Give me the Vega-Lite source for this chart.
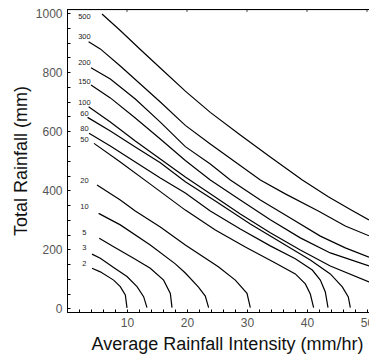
{
  "$schema": "https://vega.github.io/schema/vega-lite/v6.json",
  "width": 302,
  "height": 303,
  "autosize": {"type": "none"},
  "padding": {"left": 67, "top": 9, "right": 0, "bottom": 45},
  "config": {
    "view": {"stroke": "#000", "strokeWidth": 1},
    "axis": {
      "grid": false,
      "domainColor": "#000",
      "domainWidth": 1,
      "tickColor": "#000",
      "labelColor": "#555",
      "titleColor": "#111",
      "labelFont": "Liberation Sans",
      "titleFont": "Liberation Sans",
      "labelFontSize": 12,
      "titleFontSize": 18,
      "titleFontWeight": "normal"
    }
  },
  "datasets": {
    "curves": [
      {"c": "500", "i": 0, "x": 5.83, "y": 997},
      {"c": "500", "i": 1, "x": 8.88, "y": 941},
      {"c": "500", "i": 2, "x": 12.22, "y": 877},
      {"c": "500", "i": 3, "x": 15.55, "y": 814},
      {"c": "500", "i": 4, "x": 19.72, "y": 736},
      {"c": "500", "i": 5, "x": 23.88, "y": 664},
      {"c": "500", "i": 6, "x": 28.88, "y": 587},
      {"c": "500", "i": 7, "x": 33.88, "y": 513},
      {"c": "500", "i": 8, "x": 39.22, "y": 435},
      {"c": "500", "i": 9, "x": 43.55, "y": 378},
      {"c": "500", "i": 10, "x": 47.22, "y": 335},
      {"c": "500", "i": 11, "x": 50.33, "y": 300},

      {"c": "300", "i": 0, "x": 3.6, "y": 903},
      {"c": "300", "i": 1, "x": 5.55, "y": 879},
      {"c": "300", "i": 2, "x": 8.88, "y": 821},
      {"c": "300", "i": 3, "x": 12.22, "y": 760},
      {"c": "300", "i": 4, "x": 15.55, "y": 699},
      {"c": "300", "i": 5, "x": 19.72, "y": 620},
      {"c": "300", "i": 6, "x": 23.88, "y": 557},
      {"c": "300", "i": 7, "x": 28.05, "y": 496},
      {"c": "300", "i": 8, "x": 32.22, "y": 435},
      {"c": "300", "i": 9, "x": 36.38, "y": 388},
      {"c": "300", "i": 10, "x": 41.88, "y": 330},
      {"c": "300", "i": 11, "x": 46.38, "y": 279},
      {"c": "300", "i": 12, "x": 50.33, "y": 246},

      {"c": "200", "i": 0, "x": 4.0, "y": 815},
      {"c": "200", "i": 1, "x": 7.22, "y": 777},
      {"c": "200", "i": 2, "x": 11.38, "y": 709},
      {"c": "200", "i": 3, "x": 15.55, "y": 631},
      {"c": "200", "i": 4, "x": 19.72, "y": 548},
      {"c": "200", "i": 5, "x": 23.88, "y": 489},
      {"c": "200", "i": 6, "x": 27.22, "y": 435},
      {"c": "200", "i": 7, "x": 32.22, "y": 367},
      {"c": "200", "i": 8, "x": 37.22, "y": 306},
      {"c": "200", "i": 9, "x": 42.22, "y": 245},
      {"c": "200", "i": 10, "x": 46.38, "y": 205},
      {"c": "200", "i": 11, "x": 50.33, "y": 174},

      {"c": "150", "i": 0, "x": 4.0, "y": 757},
      {"c": "150", "i": 1, "x": 7.22, "y": 713},
      {"c": "150", "i": 2, "x": 11.38, "y": 645},
      {"c": "150", "i": 3, "x": 15.55, "y": 574},
      {"c": "150", "i": 4, "x": 19.72, "y": 501},
      {"c": "150", "i": 5, "x": 23.88, "y": 435},
      {"c": "150", "i": 6, "x": 28.88, "y": 367},
      {"c": "150", "i": 7, "x": 33.88, "y": 300},
      {"c": "150", "i": 8, "x": 38.88, "y": 239},
      {"c": "150", "i": 9, "x": 43.88, "y": 188},
      {"c": "150", "i": 10, "x": 50.33, "y": 144},

      {"c": "100", "i": 0, "x": 3.6, "y": 683},
      {"c": "100", "i": 1, "x": 7.22, "y": 631},
      {"c": "100", "i": 2, "x": 11.38, "y": 567},
      {"c": "100", "i": 3, "x": 15.55, "y": 506},
      {"c": "100", "i": 4, "x": 19.72, "y": 445},
      {"c": "100", "i": 5, "x": 23.88, "y": 388},
      {"c": "100", "i": 6, "x": 28.88, "y": 320},
      {"c": "100", "i": 7, "x": 33.88, "y": 256},
      {"c": "100", "i": 8, "x": 38.88, "y": 198},
      {"c": "100", "i": 9, "x": 43.88, "y": 144},
      {"c": "100", "i": 10, "x": 50.33, "y": 90},

      {"c": "60", "i": 0, "x": 3.43, "y": 647},
      {"c": "60", "i": 1, "x": 7.22, "y": 601},
      {"c": "60", "i": 2, "x": 11.38, "y": 547},
      {"c": "60", "i": 3, "x": 15.55, "y": 493},
      {"c": "60", "i": 4, "x": 19.72, "y": 429},
      {"c": "60", "i": 5, "x": 24.72, "y": 364},
      {"c": "60", "i": 6, "x": 30.55, "y": 286},
      {"c": "60", "i": 7, "x": 36.38, "y": 215},
      {"c": "60", "i": 8, "x": 40.55, "y": 164},
      {"c": "60", "i": 9, "x": 43.88, "y": 117},
      {"c": "60", "i": 10, "x": 45.88, "y": 73},
      {"c": "60", "i": 11, "x": 46.88, "y": 39},
      {"c": "60", "i": 12, "x": 47.22, "y": 3},

      {"c": "80", "i": 0, "x": 3.67, "y": 593},
      {"c": "80", "i": 1, "x": 7.22, "y": 550},
      {"c": "80", "i": 2, "x": 11.38, "y": 496},
      {"c": "80", "i": 3, "x": 15.55, "y": 442},
      {"c": "80", "i": 4, "x": 19.72, "y": 391},
      {"c": "80", "i": 5, "x": 23.88, "y": 330},
      {"c": "80", "i": 6, "x": 28.88, "y": 269},
      {"c": "80", "i": 7, "x": 33.88, "y": 212},
      {"c": "80", "i": 8, "x": 38.05, "y": 168},
      {"c": "80", "i": 9, "x": 40.88, "y": 130},
      {"c": "80", "i": 10, "x": 42.22, "y": 96},
      {"c": "80", "i": 11, "x": 43.05, "y": 56},
      {"c": "80", "i": 12, "x": 43.5, "y": 3},

      {"c": "50", "i": 0, "x": 4.5, "y": 559},
      {"c": "50", "i": 1, "x": 8.88, "y": 496},
      {"c": "50", "i": 2, "x": 13.88, "y": 421},
      {"c": "50", "i": 3, "x": 19.72, "y": 333},
      {"c": "50", "i": 4, "x": 24.72, "y": 266},
      {"c": "50", "i": 5, "x": 29.72, "y": 208},
      {"c": "50", "i": 6, "x": 34.72, "y": 154},
      {"c": "50", "i": 7, "x": 38.05, "y": 117},
      {"c": "50", "i": 8, "x": 39.72, "y": 83},
      {"c": "50", "i": 9, "x": 40.55, "y": 49},
      {"c": "50", "i": 10, "x": 41.1, "y": 3},

      {"c": "20", "i": 0, "x": 5.0, "y": 418},
      {"c": "20", "i": 1, "x": 8.88, "y": 367},
      {"c": "20", "i": 2, "x": 11.38, "y": 330},
      {"c": "20", "i": 3, "x": 15.55, "y": 276},
      {"c": "20", "i": 4, "x": 19.72, "y": 215},
      {"c": "20", "i": 5, "x": 25.22, "y": 141},
      {"c": "20", "i": 6, "x": 28.05, "y": 96},
      {"c": "20", "i": 7, "x": 30.0, "y": 51},
      {"c": "20", "i": 8, "x": 30.55, "y": 3},

      {"c": "10", "i": 0, "x": 5.27, "y": 322},
      {"c": "10", "i": 1, "x": 8.88, "y": 283},
      {"c": "10", "i": 2, "x": 13.88, "y": 215},
      {"c": "10", "i": 3, "x": 18.05, "y": 151},
      {"c": "10", "i": 4, "x": 19.72, "y": 120},
      {"c": "10", "i": 5, "x": 21.88, "y": 73},
      {"c": "10", "i": 6, "x": 23.05, "y": 42},
      {"c": "10", "i": 7, "x": 23.6, "y": 3},

      {"c": "5", "i": 0, "x": 5.38, "y": 238},
      {"c": "5", "i": 1, "x": 7.77, "y": 209},
      {"c": "5", "i": 2, "x": 11.1, "y": 170},
      {"c": "5", "i": 3, "x": 13.88, "y": 136},
      {"c": "5", "i": 4, "x": 16.1, "y": 96},
      {"c": "5", "i": 5, "x": 17.22, "y": 51},
      {"c": "5", "i": 6, "x": 17.5, "y": 3},

      {"c": "3", "i": 0, "x": 4.17, "y": 184},
      {"c": "3", "i": 1, "x": 5.55, "y": 170},
      {"c": "3", "i": 2, "x": 7.77, "y": 139},
      {"c": "3", "i": 3, "x": 10.0, "y": 108},
      {"c": "3", "i": 4, "x": 11.67, "y": 74},
      {"c": "3", "i": 5, "x": 12.77, "y": 40},
      {"c": "3", "i": 6, "x": 13.33, "y": 3},

      {"c": "2", "i": 0, "x": 4.17, "y": 136},
      {"c": "2", "i": 1, "x": 5.55, "y": 124},
      {"c": "2", "i": 2, "x": 7.77, "y": 96},
      {"c": "2", "i": 3, "x": 8.88, "y": 74},
      {"c": "2", "i": 4, "x": 9.72, "y": 46},
      {"c": "2", "i": 5, "x": 10.0, "y": 2}
    ],
    "labels": [
      {"c": "500", "x": 2.9, "y": 987},
      {"c": "300", "x": 2.9, "y": 919},
      {"c": "200", "x": 2.9, "y": 831},
      {"c": "150", "x": 2.9, "y": 767},
      {"c": "100", "x": 2.9, "y": 696},
      {"c": "60", "x": 2.9, "y": 659},
      {"c": "80", "x": 2.9, "y": 608},
      {"c": "50", "x": 2.9, "y": 570},
      {"c": "20", "x": 2.9, "y": 430},
      {"c": "10", "x": 2.9, "y": 343},
      {"c": "5", "x": 2.9, "y": 257},
      {"c": "3", "x": 2.9, "y": 204},
      {"c": "2", "x": 2.9, "y": 150}
    ],
    "frame": [{"x": 25, "y": 1012}],
    "topticks": [{"x": 10, "y": 1012}, {"x": 20, "y": 1012}, {"x": 30, "y": 1012}, {"x": 40, "y": 1012}, {"x": 50, "y": 1012}]
  },
  "encoding": {
    "x": {
      "field": "x", "type": "quantitative",
      "scale": {"domain": [0, 50.33], "nice": false, "zero": false},
      "axis": {
        "orient": "bottom",
        "title": "Average Rainfall Intensity (mm/hr)",
        "titleX": 160,
        "titlePadding": 7,
        "values": [2,4,6,8,10,12,14,16,18,20,22,24,26,28,30,32,34,36,38,40,42,44,46,48,50],
        "labelExpr": "datum.value % 10 === 0 ? datum.label : ''",
        "tickSize": -3,
        "labelPadding": 8,
        "labelFlush": false,
        "labelOverlap": false
      }
    },
    "y": {
      "field": "y", "type": "quantitative",
      "scale": {"domain": [-12, 1014], "nice": false, "zero": false},
      "axis": {
        "orient": "left",
        "title": "Total Rainfall (mm)",
        "titlePadding": 5,
        "format": "d",
        "values": [0,50,100,150,200,250,300,350,400,450,500,550,600,650,700,750,800,850,900,950,1000],
        "labelExpr": "datum.value % 200 === 0 ? datum.label : ''",
        "tickSize": -3,
        "labelPadding": 8,
        "labelOverlap": false
      }
    }
  },
  "layer": [
    {
      "data": {"name": "frame"},
      "mark": {"type": "rule", "color": "#000", "strokeWidth": 1},
      "encoding": {
        "x": null
      }
    },
    {
      "data": {"name": "curves"},
      "mark": {"type": "line", "color": "#000", "strokeWidth": 1.2},
      "encoding": {
        "detail": {"field": "c"},
        "order": {"field": "i", "type": "quantitative"}
      }
    },
    {
      "data": {"name": "labels"},
      "mark": {"type": "text", "fontSize": 7.5, "color": "#222", "align": "center", "baseline": "middle", "font": "Liberation Sans"},
      "encoding": {
        "text": {"field": "c"}
      }
    },
    {
      "data": {"name": "topticks"},
      "mark": {"type": "tick", "orient": "vertical", "color": "#000", "size": 3, "thickness": 1, "yOffset": 1}
    }
  ]
}
